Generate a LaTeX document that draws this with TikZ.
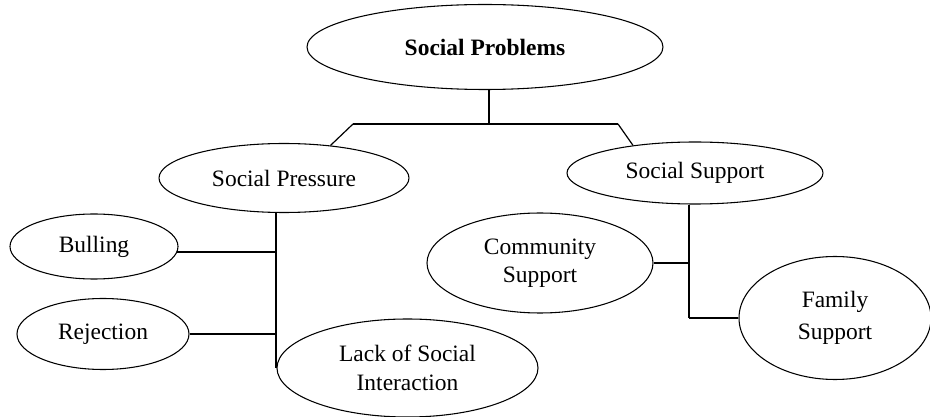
\documentclass[tikz,border=0pt]{standalone}
\usepackage{fontspec}
\setmainfont{Liberation Serif}
\usepackage{tikz}
\usetikzlibrary{arrows,shapes,positioning}

\begin{document}
\begin{tikzpicture}[scale=0.2636]
                    \tikzstyle{every node}+=[inner sep=0pt, font=\fontsize{17.6}{19.5}\selectfont]
                    \tikzstyle{bubble}=[draw=black, ellipse, line width=0.8pt, align=center]
                    \tikzstyle{bar}=[black, line width=1.3pt]
                    \tikzstyle{twig}=[black, line width=0.9pt]
                    \useasboundingbox (0,0) rectangle (93,-41.7);
                    % top level
                    \node [bubble, minimum width=267pt, minimum height=63.75pt] (prob) at (48.5,-4.7) {\textbf{Social Problems}};
                    \node [bubble, minimum width=187.5pt, minimum height=51.75pt] (press) at (28.4,-17.8) {Social Pressure};
                    \node [bubble, minimum width=192pt, minimum height=46.5pt] (supp) at (69.5,-17.3) {Social Support};
                    % under Social Pressure
                    \node [bubble, minimum width=126pt, minimum height=48.75pt] (bull) at (9.4,-24.65) {Bulling};
                    \node [bubble, minimum width=129pt, minimum height=53.25pt] (rej) at (10.3,-33.4) {Rejection};
                    \node [bubble, minimum width=195.75pt, minimum height=73.5pt, font=\fontsize{17.6}{22}\selectfont] (lack) at (40.75,-36.8) {Lack of Social\\Interaction};
                    % under Social Support
                    \node [bubble, minimum width=169.5pt, minimum height=75pt, font=\fontsize{17.6}{21}\selectfont] (comm) at (54.0,-26.3) {Community\\Support};
                    \node [bubble, minimum width=144pt, minimum height=92.25pt, font=\fontsize{17.6}{24}\selectfont] (fam) at (83.5,-31.8) {Family\\Support};
                    % joints
                    \coordinate (top) at (48.9,-12.4);
                    \coordinate (bl) at (35.3,-12.4);
                    \coordinate (br) at (61.8,-12.4);
                    \coordinate (pv) at (27.6,-36.8);
                    \coordinate (sv) at (68.9,-31.8);
                    % connectors
                    \draw [twig] (top |- prob.south) -- (top);
                    \draw [bar] (bl) -- (br);
                    \draw [twig] (bl) -- (press.35);
                    \draw [twig] (br) -- (supp.156);
                    \draw [bar] (pv |- press.south) -- (pv |- lack.west);
                    \draw [bar] (bull.-4) -- (bull.-4 -| pv);
                    \draw [twig] (rej.east) -- (rej.east -| pv);
                    \draw [bar] (sv |- supp.south) -- (sv |- fam.west);
                    \draw [bar] (comm.east) -- (comm.east -| sv);
                    \draw [twig] (fam.west) -- (fam.west -| sv);
                \end{tikzpicture}
\end{document}
